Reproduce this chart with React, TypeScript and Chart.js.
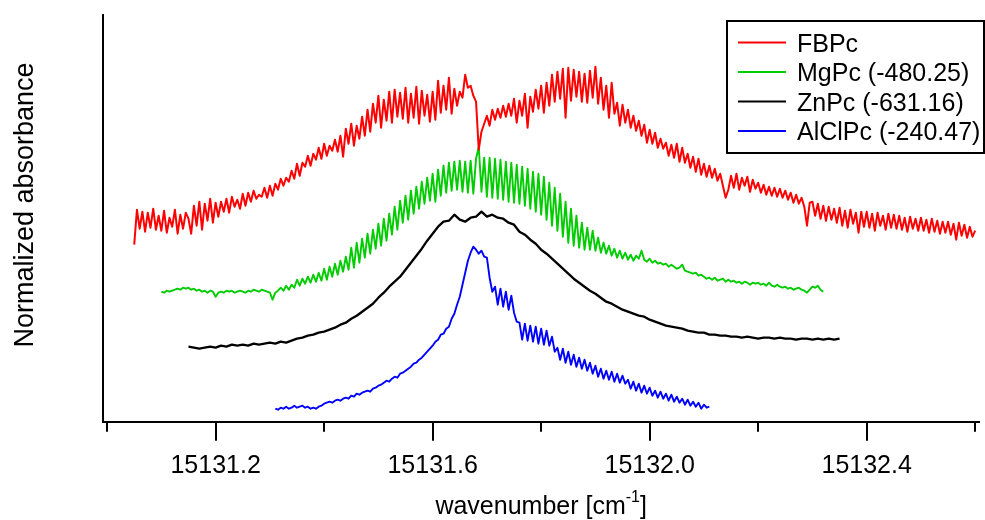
import { useEffect, useRef } from 'react';
import { Chart, registerables } from 'chart.js';

Chart.register(...registerables);

const FONT = "'Liberation Sans', Arial, Helvetica, sans-serif";

const seriesNames = ['FBPc', 'MgPc (-480.25)', 'ZnPc (-631.16)', 'AlClPc (-240.47)'];
const seriesColors = ['#ff0000', '#00cc00', '#000000', '#0000ff'];

const xMin = 15130.993;
const xMax = 15132.607;
const yMin = 0;
const yMax = 40.67;
const majorTicks = [15131.2, 15131.6, 15132.0, 15132.4];
const minorTicks = [15131.0, 15131.4, 15131.8, 15132.2, 15132.6];
const xTitle = 'wavenumber [cm';
const xTitleSup = '-1';
const xTitleEnd = ']';
const yTitle = 'Normalized absorbance';

// FBPc (red), sampled every 0.005 cm-1 from 15131.05
const fbpcStart = 15131.05;
const fbpcStep = 0.005;
const fbpcValues = [
  17.7, 21.2, 19.3, 21.0, 19.0, 20.9, 19.4, 21.3, 19.2, 20.6,
  19.1, 21.1, 18.9, 20.4, 19.5, 21.2, 18.8, 20.7, 19.3, 20.9,
  20.3, 18.8, 21.6, 19.6, 22.0, 19.2, 21.8, 20.1, 22.3, 19.9,
  21.9, 20.5, 22.0, 21.0, 22.3, 20.9, 22.5, 21.5, 22.2, 21.3,
  22.8, 21.6, 22.9, 22.0, 23.1, 22.3, 22.7, 22.5, 23.4, 22.4,
  23.6, 22.6, 23.8, 23.2, 24.3, 23.6, 24.4, 24.0, 25.1, 24.3,
  25.8, 24.6, 25.9, 25.5, 26.6, 25.6, 26.8, 26.2, 27.4, 26.3,
  27.8, 26.6, 27.6, 27.1, 28.2, 27.0, 28.6, 26.5, 29.3, 27.8,
  29.8, 27.6, 29.6, 28.3, 30.5, 28.6, 31.2, 29.0, 31.8, 29.9,
  32.6, 29.4, 32.2, 30.1, 33.0, 29.9, 33.2, 30.5, 32.9, 30.3,
  33.4, 29.9, 32.8, 30.4, 33.5, 29.8, 33.1, 30.6, 32.7, 30.0,
  33.0, 30.2, 34.1, 30.9, 33.6, 31.2, 34.4, 30.8, 33.3, 31.6,
  33.0, 32.4, 34.7, 33.4, 33.6, 32.6, 32.0, 27.2, 29.0, 29.8,
  30.6, 29.6, 31.2, 30.2, 31.3, 30.4, 31.6, 30.5, 31.8, 30.6,
  32.3, 29.9, 32.1, 30.6, 32.8, 29.4, 32.5, 31.0, 33.2, 31.3,
  33.6, 30.9, 33.9, 31.6, 34.7, 32.0, 35.0, 32.3, 35.3, 30.4,
  35.4, 32.1, 35.2, 32.5, 35.0, 32.0, 34.8, 31.9, 35.1, 32.4,
  35.5, 31.8, 34.4, 31.2, 33.6, 30.4, 33.9, 30.8, 31.9, 29.6,
  31.7, 29.9, 31.2, 29.4, 30.6, 29.1, 30.1, 28.6, 29.7, 27.9,
  29.2, 27.8, 28.9, 27.4, 28.3, 27.3, 27.9, 26.6, 27.7, 26.4,
  27.8, 26.0, 27.4, 25.9, 26.8, 25.4, 26.5, 25.0, 26.3, 24.7,
  25.8, 24.5, 25.6, 24.4, 25.3, 24.1, 24.8, 23.6, 22.4, 23.2,
  24.6, 23.4, 24.8, 23.2, 24.4, 23.6, 24.5, 23.0, 24.2, 23.3,
  23.9, 22.9, 23.7, 22.7, 23.5, 22.6, 23.4, 22.5, 23.3, 22.4,
  23.1, 22.2, 22.9, 21.9, 22.7, 21.8, 22.4, 21.5, 19.6, 21.9,
  22.0, 20.6, 21.8, 20.3, 21.6, 20.1, 21.5, 20.2, 21.3, 19.9,
  21.4, 19.6, 21.1, 19.4, 21.2, 19.8, 20.9, 18.9, 21.0, 19.5,
  21.0, 19.4, 20.8, 19.1, 20.9, 19.6, 20.6, 19.2, 20.8, 19.4,
  20.7, 19.3, 20.6, 19.2, 20.4, 19.0, 20.5, 19.3, 20.3, 19.1,
  20.4, 19.1, 20.2, 18.9, 20.3, 19.0, 20.1, 18.8, 20.0, 18.9,
  20.0, 18.7, 19.8, 18.2, 19.9, 18.6, 19.7, 18.4, 19.5, 18.5, 19.1,
];

// MgPc (green), sampled every 0.005 cm-1 from 15131.10
const mgpcStart = 15131.1;
const mgpcStep = 0.005;
const mgpcValues = [
  13.0, 12.9, 13.1, 13.0, 13.1, 13.2, 13.3, 13.2, 13.4, 13.3,
  13.4, 13.2, 13.3, 13.1, 13.2, 13.0, 13.1, 12.9, 13.1, 13.0,
  12.5, 12.9, 13.0, 12.9, 13.1, 13.0, 13.1, 12.9, 13.0, 13.1,
  13.0, 12.9, 13.1, 13.0, 13.2, 13.1, 13.0, 13.2, 13.1, 13.0,
  12.9, 12.2, 12.9, 13.1, 13.4, 13.1, 13.6, 13.2, 13.7, 13.4,
  14.2, 13.6, 14.3, 13.8, 14.5, 13.9, 14.7, 14.0, 14.9, 14.1,
  15.3, 14.2, 15.5, 14.5, 15.8, 14.7, 16.1, 15.0, 16.5, 15.2,
  17.4, 15.4, 17.9, 15.9, 18.3, 16.4, 18.8, 16.8, 19.2, 17.3,
  19.8, 17.6, 20.3, 18.1, 20.8, 18.7, 21.5, 19.2, 22.1, 19.9,
  22.6, 20.2, 23.1, 20.8, 23.5, 21.3, 24.0, 21.8, 24.4, 22.1,
  24.8, 22.0, 25.2, 22.6, 25.6, 22.9, 25.9, 23.1, 26.0, 23.2,
  26.1, 23.0, 26.0, 22.9, 26.1, 22.8, 26.3, 27.5, 23.0, 26.4,
  22.5, 26.4, 22.4, 26.3, 22.3, 26.2, 22.2, 26.0, 22.0, 25.9,
  21.9, 25.7, 21.8, 25.5, 21.6, 25.3, 21.3, 25.0, 21.0, 24.8,
  20.7, 24.5, 20.2, 23.9, 19.6, 23.4, 19.1, 22.8, 18.5, 22.0,
  17.9, 21.3, 17.6, 20.6, 17.4, 19.9, 17.2, 19.4, 17.2, 19.1,
  17.1, 18.4, 16.9, 17.9, 16.8, 17.6, 16.6, 17.3, 16.4, 17.1,
  16.3, 16.9, 16.2, 16.7, 16.1, 16.6, 16.3, 17.1, 16.2, 16.0,
  16.3, 15.9, 16.1, 15.8, 15.9, 15.7, 15.8, 15.5, 15.7, 15.5,
  15.3, 15.4, 15.7, 15.1, 15.0, 14.9, 14.8, 14.9, 14.6, 14.7,
  14.5, 14.3, 14.4, 14.2, 14.4, 14.1, 14.2, 14.3, 14.0, 14.2,
  14.0, 14.1, 13.9, 14.0, 13.8, 14.0, 13.9, 13.7, 13.9, 13.8,
  13.9, 13.7, 13.8, 13.6, 13.9, 13.6, 13.5, 13.7, 13.5, 13.4,
  13.5, 13.3, 13.4, 13.2, 13.3, 13.4, 13.2, 13.1, 12.9, 13.2,
  13.5, 13.4, 13.6, 13.2, 13.0,
];

// ZnPc (black), sampled every 0.01 cm-1 from 15131.15
const znpcStart = 15131.15;
const znpcStep = 0.01;
const znpcValues = [
  7.5, 7.4, 7.3, 7.4, 7.5, 7.4, 7.6, 7.5, 7.7, 7.6,
  7.7, 7.6, 7.8, 7.7, 7.8, 7.9, 7.8, 8.0, 7.9, 8.1,
  8.3, 8.4, 8.6, 8.7, 8.9, 9.0, 9.2, 9.4, 9.7, 9.9,
  10.3, 10.6, 11.0, 11.4, 11.8, 12.4, 12.9, 13.5, 14.0, 14.5,
  15.2, 15.9, 16.6, 17.3, 18.1, 18.8, 19.5, 20.0, 20.1, 20.7,
  20.2, 20.0, 20.4, 20.5, 21.0, 20.5, 20.7, 20.4, 20.3, 19.9,
  19.7, 19.0, 18.7, 18.2, 17.8, 17.2, 16.8, 16.3, 15.8, 15.3,
  14.8, 14.3, 13.9, 13.5, 13.1, 12.8, 12.4, 12.0, 11.8, 11.5,
  11.2, 11.0, 10.8, 10.6, 10.5, 10.2, 10.0, 9.8, 9.6, 9.5,
  9.4, 9.3, 9.1, 9.0, 8.9, 8.9, 8.7, 8.7, 8.6, 8.6,
  8.5, 8.5, 8.4, 8.5, 8.4, 8.3, 8.4, 8.4, 8.3, 8.4,
  8.3, 8.3, 8.2, 8.3, 8.3, 8.2, 8.3, 8.2, 8.3, 8.2, 8.3,
];

// AlClPc (blue), sampled every 0.005 cm-1 from 15131.31
const alclpcStart = 15131.31;
const alclpcStep = 0.005;
const alclpcValues = [
  1.3, 1.2, 1.4, 1.3, 1.5, 1.3, 1.4, 1.6, 1.4, 1.5,
  1.6, 1.4, 1.5, 1.3, 1.4, 1.3, 1.5, 1.6, 1.8, 1.9,
  2.0, 1.9, 2.1, 2.2, 2.1, 2.3, 2.4, 2.3, 2.6, 2.5,
  2.8, 2.7, 2.9, 3.0, 3.1, 3.0, 3.3, 3.4, 3.6, 3.7,
  3.9, 4.1, 4.0, 4.3, 4.5, 4.4, 4.8, 4.9, 5.1, 5.3,
  5.5, 5.8, 5.9, 6.2, 6.4, 6.7, 7.0, 7.3, 7.6, 8.0,
  8.2, 8.7, 8.8, 9.3, 9.5, 10.3, 10.8, 11.7, 12.5, 13.7,
  14.9, 16.1, 16.9, 17.5, 17.2, 16.8, 17.1, 16.5, 16.4, 14.4,
  13.0, 13.5, 11.7, 13.3, 11.5, 13.0, 11.2, 12.6, 10.9, 10.0,
  9.9, 8.2, 9.8, 8.1, 9.6, 8.0, 9.5, 7.8, 9.3, 7.7,
  9.1, 7.6, 8.5, 7.0, 7.4, 6.2, 7.3, 5.9, 7.0, 5.7,
  6.7, 5.5, 6.4, 5.3, 6.2, 5.1, 5.9, 4.8, 5.6, 4.5,
  5.3, 4.3, 5.1, 4.2, 5.0, 4.0, 4.8, 3.9, 4.6, 3.8,
  4.2, 3.3, 4.0, 3.1, 3.8, 2.9, 3.6, 2.8, 3.4, 2.6,
  3.1, 2.4, 3.0, 2.3, 2.8, 2.1, 2.7, 2.0, 2.5, 1.9,
  2.3, 1.7, 2.2, 1.6, 2.0, 1.5, 1.9, 1.3, 1.7, 1.4, 1.5,
];

const seriesWidths = [2, 1.9, 2.3, 1.9];

const toPoints = (start: number, step: number, values: number[]) =>
  values.map((y, i) => ({ x: start + i * step, y }));

const overlayPlugin = {
  id: 'overlay',
  afterDraw(chart: any) {
    const { ctx, chartArea, scales } = chart;
    const xs = scales.x;
    ctx.save();
    // minor tick marks
    ctx.strokeStyle = '#000';
    ctx.lineWidth = 2;
    minorTicks.forEach((v) => {
      const px = Math.round(xs.getPixelForValue(v));
      ctx.beginPath();
      ctx.moveTo(px, chartArea.bottom);
      ctx.lineTo(px, chartArea.bottom + 10);
      ctx.stroke();
    });

    ctx.fillStyle = '#000';
    // x title with superscript
    const mainFont = `25px ${FONT}`;
    const supFont = `16px ${FONT}`;
    ctx.font = mainFont;
    const w1 = ctx.measureText(xTitle).width;
    const w3 = ctx.measureText(xTitleEnd).width;
    ctx.font = supFont;
    const w2 = ctx.measureText(xTitleSup).width;
    const total = w1 + w2 + w3;
    const cx = (chartArea.left + chartArea.right) / 2;
    let tx = cx - total / 2;
    const baseY = 514;
    ctx.textAlign = 'left';
    ctx.textBaseline = 'alphabetic';
    ctx.font = mainFont;
    ctx.fillText(xTitle, tx, baseY);
    tx += w1;
    ctx.font = supFont;
    ctx.fillText(xTitleSup, tx, baseY - 12);
    tx += w2;
    ctx.font = mainFont;
    ctx.fillText(xTitleEnd, tx, baseY);

    // y title
    ctx.save();
    ctx.translate(33, 205);
    ctx.rotate(-Math.PI / 2);
    ctx.font = `27px ${FONT}`;
    ctx.textAlign = 'center';
    ctx.textBaseline = 'alphabetic';
    ctx.fillText(yTitle, 0, 0);
    ctx.restore();

    // legend box
    const bx = 727, by = 21, bw = 257, bh = 132;
    ctx.fillStyle = '#fff';
    ctx.fillRect(bx, by, bw, bh);
    ctx.strokeStyle = '#000';
    ctx.lineWidth = 2;
    ctx.strokeRect(bx, by, bw, bh);
    ctx.font = `25px ${FONT}`;
    ctx.textAlign = 'left';
    ctx.textBaseline = 'alphabetic';
    chart.data.datasets.forEach((ds: any, i: number) => {
      const ry = 42.5 + i * 29.5;
      ctx.strokeStyle = ds.borderColor;
      ctx.lineWidth = 2;
      ctx.beginPath();
      ctx.moveTo(738, ry);
      ctx.lineTo(786, ry);
      ctx.stroke();
      ctx.fillStyle = '#000';
      ctx.fillText(ds.label, 797, ry + 9);
    });
    ctx.restore();
  },
};

export default function App() {
  const canvasRef = useRef<HTMLCanvasElement | null>(null);

  useEffect(() => {
    if (!canvasRef.current) return;
    Chart.defaults.font.family = FONT;
    const seriesData = [
      toPoints(fbpcStart, fbpcStep, fbpcValues),
      toPoints(mgpcStart, mgpcStep, mgpcValues),
      toPoints(znpcStart, znpcStep, znpcValues),
      toPoints(alclpcStart, alclpcStep, alclpcValues),
    ];
    const chart = new Chart(canvasRef.current, {
      type: 'line',
      data: {
        datasets: seriesData.map((d, i) => ({
          label: seriesNames[i],
          data: d,
          borderColor: seriesColors[i],
          backgroundColor: seriesColors[i],
          borderWidth: seriesWidths[i],
          pointRadius: 0,
          tension: 0,
          fill: false,
          borderJoinStyle: 'round' as const,
        })),
      },
      options: {
        animation: false,
        responsive: false,
        maintainAspectRatio: false,
        layout: { padding: { left: 0, right: 6, top: 15, bottom: 0 } },
        plugins: {
          legend: { display: false },
          tooltip: { enabled: false },
          title: { display: false },
        },
        scales: {
          x: {
            type: 'linear',
            min: xMin,
            max: xMax,
            afterBuildTicks: (scale: any) => {
              scale.ticks = majorTicks.map((v) => ({ value: v }));
            },
            afterFit: (scale: any) => {
              scale.height = 98.3;
            },
            ticks: {
              autoSkip: false,
              maxRotation: 0,
              minRotation: 0,
              padding: 10,
              color: '#000',
              font: { size: 25, family: FONT },
              callback: (v: any) => Number(v).toFixed(1),
            },
            grid: {
              display: true,
              drawOnChartArea: false,
              drawTicks: true,
              tickLength: 19,
              lineWidth: 2,
              tickWidth: 2,
              color: '#000',
              tickColor: '#000',
            },
            border: { display: true, color: '#000', width: 2 },
          },
          y: {
            type: 'linear',
            min: yMin,
            max: yMax,
            afterFit: (scale: any) => {
              scale.width = 103.3;
            },
            ticks: { display: false },
            grid: { display: false, drawTicks: false },
            border: { display: true, color: '#000', width: 2 },
          },
        },
      },
      plugins: [overlayPlugin],
    });
    return () => chart.destroy();
  }, []);

  return (
    <div style={{ position: 'fixed', left: 0, top: 0, width: 985, height: 520, background: '#fff' }}>
      <canvas ref={canvasRef} width={985} height={520} style={{ width: 985, height: 520 }} />
    </div>
  );
}
